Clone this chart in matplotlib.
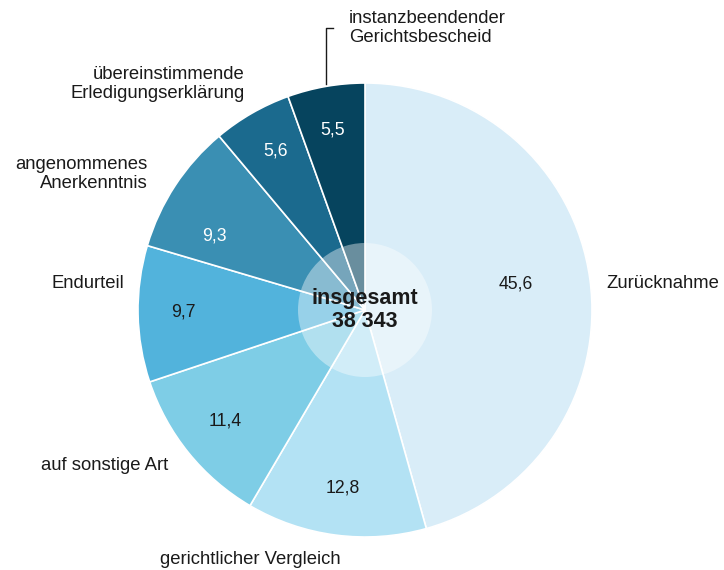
import matplotlib.pyplot as plt
from matplotlib.patches import Circle

plt.rcParams['font.family'] = ['Liberation Sans', 'DejaVu Sans']

categories = ["Zurücknahme", "gerichtlicher Vergleich", "auf sonstige Art", "Endurteil",
              "angenommenes\nAnerkenntnis", "übereinstimmende\nErledigungserklärung",
              "instanzbeendender\nGerichtsbescheid"]
values = [45.6, 12.8, 11.4, 9.7, 9.3, 5.6, 5.5]
value_labels = ["45,6", "12,8", "11,4", "9,7", "9,3", "5,6", "5,5"]
colors = ["#d9edf8", "#b3e2f4", "#7ecde6", "#52b3dc", "#3a8fb3", "#1b6a8e", "#06445e"]
text_colors = ["#1a1a1a", "#1a1a1a", "#1a1a1a", "#1a1a1a", "white", "white", "white"]
total = "38 343"

W, H = 724, 570
cx, cy, R = 365, H - 310, 227

fig = plt.figure(figsize=(W / 100, H / 100), dpi=100)
ax = fig.add_axes([0, 0, 1, 1])

ax.pie(values, colors=colors, startangle=90, counterclock=False, center=(cx, cy), radius=R,
       wedgeprops=dict(edgecolor='white', linewidth=1.2), frame=True)
ax.set_xlim(0, W)
ax.set_ylim(0, H)
ax.set_aspect('equal')
ax.axis('off')

# value labels (pixel positions)
val_pos = [(516, 284), (343, 488), (225, 421), (183, 312), (214, 236), (276, 151), (333, 130)]
for (x, y), t, c in zip(val_pos, value_labels, text_colors):
    ax.text(x, H - y, t, ha='center', va='center', fontsize=12.7, color=c)

# category labels
cat_pos = [(606, 284, 'left'), (250, 560, 'center'), (168, 465, 'right'), (124, 284, 'right'),
           (148, 174, 'right'), (245, 84, 'right'), (349, 28, 'left')]
for (x, y, ha), t in zip(cat_pos, categories):
    ax.text(x, H - y, t, ha=ha, va='center', fontsize=13.3, color='#1a1a1a', linespacing=1.12)

# leader line for Gerichtsbescheid
ax.plot([326, 326, 333], [H - 84, H - 28, H - 28], color='#1a1a1a', lw=1)

# translucent centre circle
ax.add_patch(Circle((cx, cy), 67, facecolor='white', alpha=0.4, edgecolor='none', zorder=5))
ax.text(cx, cy, "insgesamt\n" + total, ha='center', va='center', fontsize=15.5,
        fontweight='bold', color='#1a1a1a', linespacing=1.1, zorder=6)

fig.savefig("out.png", dpi=100, facecolor='white')
